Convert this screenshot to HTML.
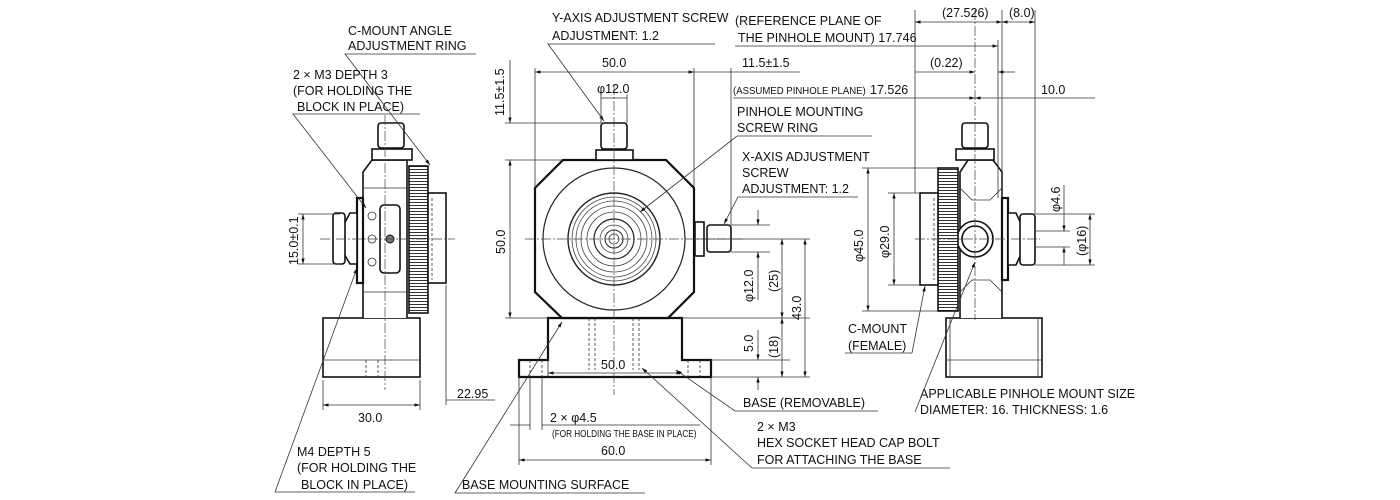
<!DOCTYPE html>
<html><head><style>
html,body{margin:0;padding:0;background:#fff}
svg{display:block}
text{font-family:"Liberation Sans",sans-serif;font-size:12.5px;fill:#111}
.t{stroke:#333;stroke-width:0.8;fill:none}
.o{stroke:#111;stroke-width:1.6;fill:#fff}
.ob{stroke:#111;stroke-width:2.2;fill:#fff}
.c{stroke:#444;stroke-width:0.7;fill:none;stroke-dasharray:10 2 2 2}
.d{stroke:#333;stroke-width:0.8;fill:none;stroke-dasharray:3 2}
.s{font-size:10px}
</style></head><body>
<svg width="1400" height="500" viewBox="0 0 1400 500" xmlns="http://www.w3.org/2000/svg">
<defs>
<marker id="a" viewBox="0 0 10 10" refX="10" refY="5" markerWidth="7" markerHeight="7" orient="auto-start-reverse"><path d="M0,2 L10,5 L0,8z" fill="#111"/></marker>
<pattern id="k" width="4" height="3" patternUnits="userSpaceOnUse"><rect width="4" height="3" fill="#fff"/><line x1="0" y1="1.5" x2="4" y2="1.5" stroke="#333" stroke-width="1"/></pattern>
<pattern id="kv" width="3" height="4" patternUnits="userSpaceOnUse"><rect width="3" height="4" fill="#fff"/><line x1="1.5" y1="0" x2="1.5" y2="4" stroke="#333" stroke-width="1"/></pattern>
</defs>

<!-- LEFT VIEW -->
<rect class="o" x="323" y="318" width="97" height="59"/><line class="t" x1="323" y1="360" x2="420" y2="360"/>
<line class="d" x1="366" y1="360" x2="366" y2="377"/><line class="d" x1="378" y1="360" x2="378" y2="377"/>
<path class="o" d="M363,318 V172 L372,160 H407 V318"/>
<line class="t" x1="363" y1="188" x2="407" y2="188"/><line class="t" x1="363" y1="292" x2="407" y2="292"/>
<rect class="o" x="380" y="205" width="20" height="68" rx="4"/>
<circle cx="390" cy="239" r="4" fill="#777" stroke="#111"/>
<circle class="t" cx="372" cy="216" r="4"/><circle class="t" cx="372" cy="239" r="4"/><circle class="t" cx="372" cy="262" r="4"/>
<rect x="409" y="166" width="19" height="147" fill="url(#k)" stroke="#111" stroke-width="1.6"/>
<rect class="o" x="428" y="193" width="18" height="90"/><line class="d" x1="432" y1="198" x2="432" y2="280"/>
<rect class="ob" x="357" y="198" width="6" height="85"/>
<path class="o" d="M357,213 L350,213 L343,226 V252 L350,264 L357,264z"/>
<rect class="o" x="333" y="213" width="12" height="51" rx="3"/>
<rect class="o" x="372" y="149" width="40" height="11" fill="url(#kv)"/>
<rect class="o" x="378" y="123" width="26" height="25" rx="3"/>
<line class="c" x1="320" y1="239" x2="455" y2="239"/>
<line class="c" x1="385" y1="115" x2="385" y2="390"/>

<!-- MIDDLE VIEW -->
<path class="ob" d="M548,318 V360 H519 V377 H711 V360 H682 V318z"/>
<line class="d" x1="595" y1="318" x2="595" y2="370"/><line class="d" x1="589" y1="318" x2="589" y2="370"/>
<line class="d" x1="633" y1="318" x2="633" y2="370"/><line class="d" x1="639" y1="318" x2="639" y2="370"/>
<line class="d" x1="530" y1="360" x2="530" y2="377"/><line class="d" x1="542" y1="360" x2="542" y2="377"/>
<line class="d" x1="688" y1="360" x2="688" y2="377"/><line class="d" x1="700" y1="360" x2="700" y2="377"/>
<path class="ob" d="M563,160 H666 L694,188 V292 L668,318 H562 L535,292 V188z"/>
<circle cx="614" cy="239" r="71" fill="none" stroke="#222" stroke-width="1.2"/>
<circle cx="614" cy="239" r="46" fill="none" stroke="#222" stroke-width="1.4"/>
<circle cx="614" cy="239" r="42" fill="none" stroke="#444" stroke-width="0.8"/>
<circle cx="614" cy="239" r="38" fill="none" stroke="#444" stroke-width="0.8"/>
<circle cx="614" cy="239" r="33" fill="none" stroke="#444" stroke-width="0.8"/>
<circle cx="614" cy="239" r="27" fill="none" stroke="#444" stroke-width="0.8"/>
<circle cx="614" cy="239" r="20" fill="none" stroke="#222" stroke-width="1.2"/>
<circle cx="614" cy="239" r="14" fill="none" stroke="#444" stroke-width="0.8"/>
<circle cx="614" cy="239" r="9" fill="none" stroke="#222" stroke-width="1"/>
<circle cx="614" cy="239" r="5" fill="none" stroke="#444" stroke-width="0.8"/>
<rect class="o" x="596" y="150" width="37" height="10" fill="url(#kv)"/>
<rect class="o" x="601" y="123" width="26" height="26" rx="3"/>
<rect class="o" x="695" y="222" width="9" height="34" fill="url(#k)"/>
<rect class="o" x="707" y="225" width="24" height="27" rx="3"/>
<line class="c" x1="525" y1="239" x2="745" y2="239"/>
<line class="c" x1="614" y1="85" x2="614" y2="395"/>

<!-- RIGHT VIEW -->
<rect class="o" x="946" y="318" width="96" height="59"/><line class="t" x1="946" y1="360" x2="1042" y2="360"/>
<line class="t" x1="950" y1="318" x2="950" y2="377"/><line class="t" x1="1038" y1="318" x2="1038" y2="377"/>
<path class="o" d="M960,318 V172 L968,160 H993 L1002,172 V318"/>
<path class="t" d="M960,188 L972,200 H990 L1002,188 M960,292 L972,280 H990 L1002,292"/>
<circle class="o" cx="975" cy="239" r="18"/><circle class="o" cx="975" cy="239" r="13"/>
<rect x="938" y="168" width="20" height="143" fill="url(#k)" stroke="#111" stroke-width="1.6"/>
<rect class="o" x="920" y="193" width="18" height="92"/><line class="d" x1="934" y1="198" x2="934" y2="280"/>
<rect class="ob" x="1002" y="198" width="6" height="82"/>
<path class="o" d="M1008,213 L1016,213 L1022,226 V252 L1016,265 L1008,265z"/>
<rect class="o" x="1020" y="214" width="15" height="51" rx="3"/>
<rect class="o" x="956" y="149" width="38" height="11" fill="url(#kv)"/>
<rect class="o" x="962" y="123" width="26" height="25" rx="3"/>
<line class="c" x1="915" y1="239" x2="1040" y2="239"/>
<line class="c" x1="975" y1="10" x2="975" y2="320"/>

<!-- LEFT DIMENSIONS/LABELS -->
<text x="348" y="35">C-MOUNT ANGLE</text><text x="348" y="50">ADJUSTMENT RING</text>
<path class="t" d="M476,54 H345 L430,165" marker-end="url(#a)"/>
<text x="293" y="79">2 × M3 DEPTH 3</text><text x="293" y="95">(FOR HOLDING THE</text><text x="297" y="111">BLOCK IN PLACE)</text>
<path class="t" d="M420,114 H293 L366,208" marker-end="url(#a)"/>
<line class="t" x1="298" y1="214" x2="340" y2="214"/><line class="t" x1="298" y1="264" x2="340" y2="264"/>
<line class="t" x1="303" y1="214" x2="303" y2="264" marker-start="url(#a)" marker-end="url(#a)"/>
<text transform="translate(298,265) rotate(-90)">15.0±0.1</text>
<line class="t" x1="446" y1="285" x2="446" y2="405"/>
<path class="t" d="M495,400 H446"/><text x="457" y="398">22.95</text>
<line class="t" x1="323" y1="380" x2="323" y2="410"/><line class="t" x1="420" y1="380" x2="420" y2="410"/>
<line class="t" x1="323" y1="405" x2="420" y2="405" marker-start="url(#a)" marker-end="url(#a)"/>
<text x="358" y="422">30.0</text>
<text x="297" y="456">M4 DEPTH 5</text><text x="297" y="472">(FOR HOLDING THE</text><text x="301" y="489">BLOCK IN PLACE)</text>
<path class="t" d="M415,492 H275 L357,268" marker-end="url(#a)"/>

<!-- MIDDLE DIMENSIONS -->
<text x="552" y="22">Y-AXIS ADJUSTMENT SCREW</text><text x="552" y="40">ADJUSTMENT: 1.2</text>
<path class="t" d="M715,44 H548 L604,121" marker-end="url(#a)"/>
<line class="t" x1="535" y1="68" x2="535" y2="188"/><line class="t" x1="694" y1="68" x2="694" y2="188"/>
<line class="t" x1="535" y1="72" x2="694" y2="72" marker-start="url(#a)" marker-end="url(#a)"/><text x="602" y="67">50.0</text>
<line class="t" x1="731" y1="68" x2="731" y2="225"/>
<path class="t" d="M694,72 H731 M731,72 H800"/><text x="742" y="67">11.5±1.5</text>
<line class="t" x1="601" y1="98" x2="627" y2="98"/><text x="597" y="93">φ12.0</text>
<line class="t" x1="601" y1="94" x2="601" y2="123"/><line class="t" x1="627" y1="94" x2="627" y2="123"/>
<line class="t" x1="505" y1="123" x2="601" y2="123"/><line class="t" x1="505" y1="160" x2="563" y2="160"/><line class="t" x1="505" y1="318" x2="548" y2="318"/>
<line class="t" x1="510" y1="60" x2="510" y2="123" marker-end="url(#a)"/><line class="t" x1="510" y1="160" x2="510" y2="318" marker-start="url(#a)" marker-end="url(#a)"/>
<text transform="translate(504,116) rotate(-90)">11.5±1.5</text>
<text transform="translate(505,254) rotate(-90)">50.0</text>
<text x="737" y="116">PINHOLE MOUNTING</text><text x="737" y="132">SCREW RING</text>
<path class="t" d="M872,136 H737 L640,212" marker-end="url(#a)"/>
<text x="742" y="161">X-AXIS ADJUSTMENT</text><text x="742" y="177">SCREW</text><text x="742" y="193">ADJUSTMENT: 1.2</text>
<path class="t" d="M858,197 H738 L724,224" marker-end="url(#a)"/>
<line class="t" x1="731" y1="225" x2="770" y2="225"/><line class="t" x1="731" y1="252" x2="770" y2="252"/>
<line class="t" x1="758" y1="210" x2="758" y2="225" marker-end="url(#a)"/><line class="t" x1="758" y1="252" x2="758" y2="300" marker-start="url(#a)"/>
<text transform="translate(753,302) rotate(-90)">φ12.0</text>
<line class="t" x1="694" y1="239" x2="810" y2="239"/>
<line class="t" x1="682" y1="318" x2="810" y2="318"/><line class="t" x1="711" y1="360" x2="790" y2="360"/><line class="t" x1="711" y1="377" x2="810" y2="377"/>
<line class="t" x1="782" y1="239" x2="782" y2="318" marker-start="url(#a)" marker-end="url(#a)"/>
<text transform="translate(778,292) rotate(-90)">(25)</text>
<line class="t" x1="805" y1="239" x2="805" y2="377" marker-start="url(#a)" marker-end="url(#a)"/>
<text transform="translate(801,320) rotate(-90)">43.0</text>
<line class="t" x1="758" y1="330" x2="758" y2="360" marker-end="url(#a)"/><line class="t" x1="758" y1="390" x2="758" y2="377" marker-end="url(#a)"/>
<text transform="translate(753,352) rotate(-90)">5.0</text>
<line class="t" x1="782" y1="318" x2="782" y2="377" marker-start="url(#a)" marker-end="url(#a)"/>
<text transform="translate(778,358) rotate(-90)">(18)</text>
<line class="t" x1="548" y1="360" x2="548" y2="378"/>
<line class="t" x1="548" y1="373" x2="682" y2="373" marker-start="url(#a)" marker-end="url(#a)"/><text x="601" y="369">50.0</text>
<text x="743" y="407">BASE (REMOVABLE)</text>
<path class="t" d="M878,411 H735 L676,370" marker-end="url(#a)"/>
<line class="t" x1="519" y1="377" x2="519" y2="465"/><line class="t" x1="711" y1="377" x2="711" y2="465"/>
<line class="t" x1="530" y1="377" x2="530" y2="430"/><line class="t" x1="542" y1="377" x2="542" y2="430"/>
<path class="t" d="M510,425 H530 M542,425 H700"/>
<text x="550" y="422">2 × φ4.5</text>
<text x="552" y="437" class="s" transform="translate(552,437) scale(0.82,1) translate(-552,-437)">(FOR HOLDING THE BASE IN PLACE)</text>
<line class="t" x1="519" y1="460" x2="711" y2="460" marker-start="url(#a)" marker-end="url(#a)"/><text x="601" y="455">60.0</text>
<text x="757" y="431">2 × M3</text><text x="757" y="447">HEX SOCKET HEAD CAP BOLT</text><text x="757" y="464">FOR ATTACHING THE BASE</text>
<path class="t" d="M950,468 H752 L642,368" marker-end="url(#a)"/>
<text x="462" y="489">BASE MOUNTING SURFACE</text>
<path class="t" d="M645,493 H455 L562,322" marker-end="url(#a)"/>

<!-- RIGHT DIMENSIONS -->
<line class="t" x1="915" y1="10" x2="915" y2="193"/><line class="t" x1="1002" y1="10" x2="1002" y2="198"/><line class="t" x1="1035" y1="10" x2="1035" y2="214"/>
<line class="t" x1="915" y1="22" x2="1002" y2="22" marker-start="url(#a)" marker-end="url(#a)"/>
<line class="t" x1="1002" y1="22" x2="1035" y2="22" marker-start="url(#a)" marker-end="url(#a)"/>
<text x="942" y="17">(27.526)</text><text x="1009" y="17">(8.0)</text>
<text x="735" y="25">(REFERENCE PLANE OF</text><text x="738" y="42">THE PINHOLE MOUNT) 17.746</text>
<line class="t" x1="735" y1="46" x2="998" y2="46" marker-end="url(#a)"/>
<line class="t" x1="998" y1="40" x2="998" y2="198"/>
<line class="t" x1="915" y1="72" x2="975" y2="72" marker-end="url(#a)"/><line class="t" x1="1015" y1="72" x2="998" y2="72" marker-end="url(#a)"/>
<text x="930" y="67">(0.22)</text>
<text x="733" y="94" class="s" transform="translate(733,94) scale(0.96,1) translate(-733,-94)">(ASSUMED PINHOLE PLANE)</text>
<text x="870" y="94">17.526</text>
<line class="t" x1="733" y1="98" x2="975" y2="98" marker-end="url(#a)"/>
<line class="t" x1="1095" y1="98" x2="975" y2="98" marker-end="url(#a)"/>
<text x="1041" y="94">10.0</text>
<line class="t" x1="862" y1="168" x2="938" y2="168"/><line class="t" x1="862" y1="311" x2="938" y2="311"/>
<line class="t" x1="868" y1="168" x2="868" y2="311" marker-start="url(#a)" marker-end="url(#a)"/>
<text transform="translate(863,262) rotate(-90)">φ45.0</text>
<line class="t" x1="888" y1="193" x2="920" y2="193"/><line class="t" x1="888" y1="285" x2="920" y2="285"/>
<line class="t" x1="894" y1="193" x2="894" y2="285" marker-start="url(#a)" marker-end="url(#a)"/>
<text transform="translate(889,258) rotate(-90)">φ29.0</text>
<text x="848" y="333">C-MOUNT</text><text x="848" y="350">(FEMALE)</text>
<path class="t" d="M845,353 H912 L925,286" marker-end="url(#a)"/>
<line class="t" x1="1035" y1="231" x2="1070" y2="231"/><line class="t" x1="1035" y1="247" x2="1070" y2="247"/>
<line class="t" x1="1064" y1="185" x2="1064" y2="231" marker-end="url(#a)"/><line class="t" x1="1064" y1="265" x2="1064" y2="247" marker-end="url(#a)"/>
<text transform="translate(1060,212) rotate(-90)">φ4.6</text>
<line class="t" x1="1035" y1="214" x2="1095" y2="214"/><line class="t" x1="1035" y1="265" x2="1095" y2="265"/>
<line class="t" x1="1090" y1="214" x2="1090" y2="265" marker-start="url(#a)" marker-end="url(#a)"/>
<text transform="translate(1086,256) rotate(-90)">(φ16)</text>
<text x="920" y="398">APPLICABLE PINHOLE MOUNT SIZE</text><text x="920" y="414">DIAMETER: 16. THICKNESS: 1.6</text>
<path class="t" d="M915,412 L975,262" marker-end="url(#a)"/>
</svg>
</body></html>
